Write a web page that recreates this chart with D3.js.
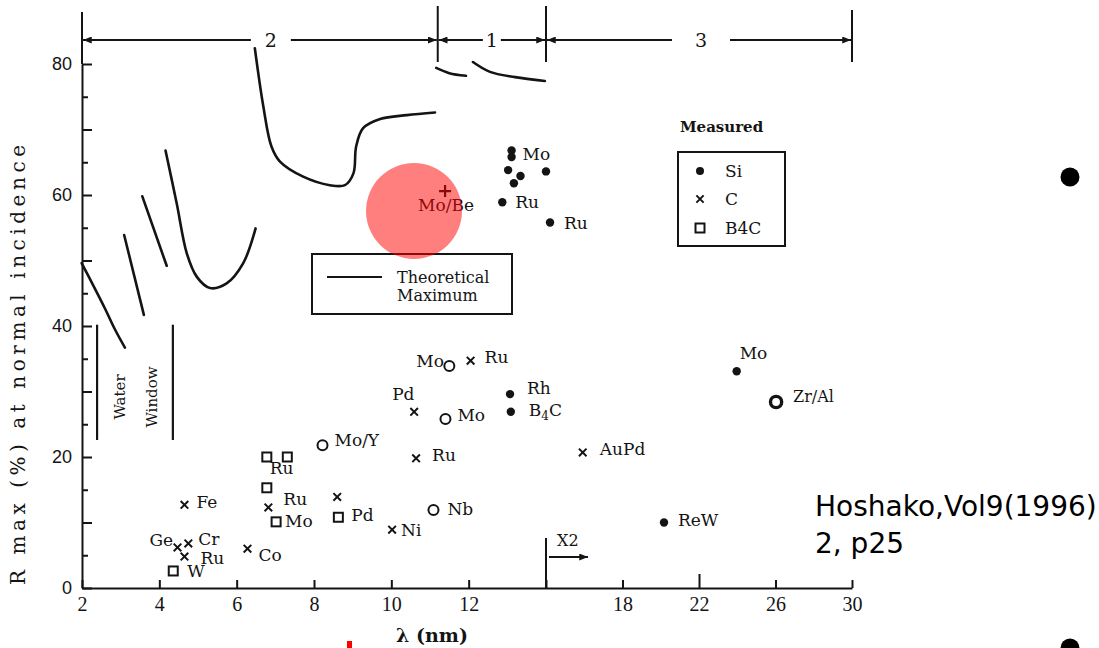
<!DOCTYPE html>
<html>
<head>
<meta charset="utf-8">
<script src="https://cdn.jsdelivr.net/npm/d3@7"></script>
<style>
  body { margin: 0; background: #fff; }
  svg { display: block; }
</style>
</head>
<body>
<svg id="chart" width="1099" height="648"></svg>
<script>
// ---- axis ticks -------------------------------------------------------
// wavelength (nm); the scale is stretched x2 beyond 14 nm
const xTickValues = [2, 4, 6, 8, 10, 12, 14, 18, 22, 26, 30];
const xTickLabels = ["2", "4", "6", "8", "10", "12", "", "18", "22", "26", "30"];
const yTickValues = [0, 20, 40, 60, 80];
const yMinorTicks = [0, 5, 10, 15, 20, 25, 30, 35, 40, 45, 50, 55, 60, 65, 70, 75, 80];

// ---- wavelength regions along the top ----------------------------------
const regionEdges = [2, 11.2, 14, 30];
const regionNames = ["2", "1", "3"];

// ---- theoretical maximum reflectivity, [lambda nm, R %] ----------------
const theoryCurves = [
  [[1.99, 49.6], [2.30, 46.1], [2.60, 42.6], [2.85, 39.5], [3.11, 36.7]],
  [[3.09, 53.9], [3.60, 41.7]],
  [[3.56, 59.8], [4.19, 49.2]],
  [[4.16, 66.8], [4.45, 58.7], [4.71, 51.1], [4.97, 47.5], [5.31, 45.8], [5.74, 46.5], [6.17, 49.6], [6.49, 54.9]],
  [[6.47, 82.4], [6.69, 73.5], [6.90, 67.4], [7.12, 65.1], [7.72, 62.8], [8.41, 61.5], [8.80, 61.5], [9.02, 63.3],
   [9.09, 67.4], [9.27, 70.2], [9.71, 71.6], [10.40, 72.2], [11.13, 72.6]],
  [[11.16, 79.4], [11.50, 78.6], [11.93, 78.2]],
  [[12.11, 80.3], [12.55, 78.8], [13.20, 78.0], [13.97, 77.4]]
];

// ---- measured multilayers, grouped by spacer ----------------------------
// Si spacer (filled dots)
const siLambda = [13.11, 13.11, 13.02, 13.34, 13.17, 14.0, 12.87, 14.21, 13.07, 13.09, 23.97, 20.17];
const siR      = [66.8, 65.8, 63.8, 62.9, 61.8, 63.6, 58.9, 55.8, 29.6, 26.9, 33.1, 10.0];
const siNames  = ["Mo", "", "", "", "", "", "Ru", "Ru", "Rh", "B4C", "Mo", "ReW"];

// C spacer (crosses)
const cLambda = [12.05, 10.59, 10.64, 15.92, 6.82, 8.60, 4.65, 4.47, 4.75, 4.65, 6.28, 10.02];
const cR      = [34.7, 26.9, 19.8, 20.7, 12.3, 13.9, 12.7, 6.2, 6.8, 4.8, 6.0, 8.9];
const cNames  = ["Ru", "Pd", "Ru", "AuPd", "Ru", "", "Fe", "Ge", "Cr", "Ru", "Co", "Ni"];

// B4C spacer (open squares)
const b4cLambda = [6.78, 7.31, 6.78, 7.02, 8.63, 4.36];
const b4cR      = [20.0, 20.0, 15.3, 10.1, 10.8, 2.6];
const b4cNames  = ["Ru", "", "", "Mo", "Pd", "W"];

// other spacers (open circles)
const otherLambda = [11.50, 11.40, 8.22, 11.09];
const otherR      = [33.9, 25.8, 21.8, 11.9];
const otherNames  = ["Mo", "Mo", "Mo/Y", "Nb"];

// Mo/Be (plus) and Zr/Al (ring)
const moBeLambda = [11.39], moBeR = [60.6];
const zrAlLambda = [26.03], zrAlR = [28.4];

// label placement (pixel offsets from each mark), same order as the series
const siLabelOffsets    = [[11, 10], null, null, null, null, null, [13, 6], [14, 6], [17, 0], [18, 4], [3, -12], [14, 3]];
const cLabelOffsets     = [[14, 2], [-22, -12], [16, 3], [17, 3], [15, -2], null, [12, 3], [-28, -1], [10, 2], [16, 7], [11, 12], [9, 6]];
const b4cLabelOffsets   = [[3, 17], null, null, [9, 5], [13, 4], [14, 6]];
const otherLabelOffsets = [[-33, 1], [12, 2], [12, 1], [14, 5]];

// ---- scales -------------------------------------------------------------
const x = d3.scaleLinear().domain([2, 14, 30]).range([82, 546, 852]);
const y = d3.scaleLinear().domain([0, 80]).range([588, 64]);

const ink = "#141414";
const serif = "'DejaVu Serif', 'Liberation Serif', serif";

const svg = d3.select("#chart");
svg.append("rect").attr("width", 1099).attr("height", 648).attr("fill", "#fff");

const defs = svg.append("defs");
defs.append("marker")
  .attr("id", "arrow")
  .attr("viewBox", "0 0 10 8")
  .attr("refX", 10).attr("refY", 4)
  .attr("markerWidth", 11).attr("markerHeight", 7)
  .attr("markerUnits", "userSpaceOnUse")
  .attr("orient", "auto")
  .append("path").attr("d", "M0,0L10,4L0,8Z").attr("fill", ink);

// ---- axes ---------------------------------------------------------------
const xAxis = d3.axisBottom(x)
  .tickValues(xTickValues)
  .tickSizeInner(-8).tickSizeOuter(0).tickPadding(9)
  .tickFormat((d, i) => xTickLabels[i]);

const gx = svg.append("g").attr("transform", `translate(0,${y(0)})`).call(xAxis);
gx.select(".domain").attr("stroke", ink).attr("stroke-width", 2);
gx.selectAll(".tick line").attr("stroke", ink).attr("stroke-width", 2);
gx.selectAll(".tick line").filter(d => d === 22).attr("y2", -14);
gx.selectAll(".tick text")
  .attr("fill", ink).attr("font-family", "'Liberation Serif', serif").attr("font-size", 20);

const yAxis = d3.axisLeft(y)
  .tickValues(yMinorTicks)
  .tickSizeInner(-6).tickSizeOuter(0).tickPadding(10)
  .tickFormat(d => yTickValues.includes(d) ? d : "");

const gy = svg.append("g").attr("transform", `translate(${x(2)},0)`).call(yAxis);
gy.select(".domain").attr("stroke", ink).attr("stroke-width", 2);
gy.selectAll(".tick line").attr("stroke", ink).attr("stroke-width", 2);
gy.selectAll(".tick line").filter(d => d % 10 === 0).attr("x2", 10);
gy.selectAll(".tick text")
  .attr("fill", ink).attr("font-family", "'Liberation Sans', sans-serif").attr("font-size", 18);

// y axis continues up into the region bar
svg.append("line")
  .attr("x1", x(2)).attr("x2", x(2)).attr("y1", y(80)).attr("y2", 12)
  .attr("stroke", ink).attr("stroke-width", 2);

// axis titles
svg.append("text")
  .attr("x", 432).attr("y", 642)
  .attr("text-anchor", "middle")
  .attr("font-family", serif).attr("font-weight", "bold").attr("font-size", 19)
  .attr("fill", ink)
  .text("λ (nm)");

svg.append("text")
  .attr("transform", "translate(25,365) rotate(-90)")
  .attr("text-anchor", "middle")
  .attr("font-family", serif).attr("font-size", 20)
  .attr("textLength", 440).attr("lengthAdjust", "spacing")
  .attr("fill", ink)
  .text("R max (%) at normal incidence");

// ---- region bar across the top -------------------------------------------
const barY = 40;
const regionLabelShift = [11, 0, 2];
const regionGapHalf = [20, 9, 29];
regionEdges.forEach((e, i) => {
  if (i === 0) return;
  svg.append("line")
    .attr("x1", x(e)).attr("x2", x(e))
    .attr("y1", i === regionEdges.length - 1 ? 10 : 6).attr("y2", 62)
    .attr("stroke", ink).attr("stroke-width", 2);
});
regionNames.forEach((name, i) => {
  const x0 = x(regionEdges[i]), x1 = x(regionEdges[i + 1]);
  const cx = (x0 + x1) / 2 + regionLabelShift[i];
  const g = regionGapHalf[i];
  [[cx - g, x0 + 1], [cx + g, x1 - 1]].forEach(([from, to]) => {
    svg.append("line")
      .attr("x1", from).attr("x2", to).attr("y1", barY).attr("y2", barY)
      .attr("stroke", ink).attr("stroke-width", 2)
      .attr("marker-end", "url(#arrow)");
  });
  svg.append("text")
    .attr("x", cx).attr("y", barY + 7)
    .attr("text-anchor", "middle")
    .attr("font-family", serif).attr("font-size", 19)
    .attr("fill", ink)
    .text(name);
});

// ---- x2 scale change marker at 14 nm --------------------------------------
svg.append("line")
  .attr("x1", x(14)).attr("x2", x(14)).attr("y1", y(0)).attr("y2", 538)
  .attr("stroke", ink).attr("stroke-width", 2);
svg.append("line")
  .attr("x1", x(14) + 3).attr("x2", x(14) + 42).attr("y1", 557).attr("y2", 557)
  .attr("stroke", ink).attr("stroke-width", 1.8)
  .attr("marker-end", "url(#arrow)");
svg.append("text")
  .attr("x", x(14) + 11).attr("y", 546)
  .attr("font-family", serif).attr("font-size", 16).attr("fill", ink)
  .text("X2");

// ---- water window -----------------------------------------------------------
const waterWindow = [2.39, 4.35];
const waterRange = [22.6, 40.2];
waterWindow.forEach(l => {
  svg.append("line")
    .attr("x1", x(l)).attr("x2", x(l)).attr("y1", y(waterRange[0])).attr("y2", y(waterRange[1]))
    .attr("stroke", ink).attr("stroke-width", 2.2);
});
[["Water", 125, 397], ["Window", 157, 397]].forEach(([t, tx, ty]) => {
  svg.append("text")
    .attr("transform", `translate(${tx},${ty}) rotate(-90)`)
    .attr("text-anchor", "middle")
    .attr("font-family", serif).attr("font-size", 15).attr("fill", ink)
    .text(t);
});

// ---- theoretical curves ------------------------------------------------------
const line = d3.line()
  .x(d => x(d[0])).y(d => y(d[1]))
  .curve(d3.curveCatmullRom.alpha(0.5));
svg.append("g").selectAll("path").data(theoryCurves).join("path")
  .attr("d", line)
  .attr("fill", "none").attr("stroke", ink).attr("stroke-width", 2.6)
  .attr("stroke-linecap", "round");

// ---- marks ---------------------------------------------------------------------
const toPoints = (ls, rs, names, offs) => ls.map((l, i) => ({
  lam: l, r: rs[i], name: names ? names[i] : "", off: offs ? offs[i] : null
}));

const siPts = toPoints(siLambda, siR, siNames, siLabelOffsets);
const cPts = toPoints(cLambda, cR, cNames, cLabelOffsets);
const b4cPts = toPoints(b4cLambda, b4cR, b4cNames, b4cLabelOffsets);
const otherPts = toPoints(otherLambda, otherR, otherNames, otherLabelOffsets);

const marks = svg.append("g");

marks.selectAll(".si").data(siPts).join("circle")
  .attr("cx", d => x(d.lam)).attr("cy", d => y(d.r)).attr("r", 4.2)
  .attr("fill", ink);

const crossPath = s => `M${-s},${-s}L${s},${s}M${-s},${s}L${s},${-s}`;
marks.selectAll(".c").data(cPts).join("path")
  .attr("transform", d => `translate(${x(d.lam)},${y(d.r)})`)
  .attr("d", crossPath(3.8))
  .attr("stroke", ink).attr("stroke-width", 2).attr("fill", "none");

marks.selectAll(".b4c").data(b4cPts).join("rect")
  .attr("x", d => x(d.lam) - 4.5).attr("y", d => y(d.r) - 4.5)
  .attr("width", 9).attr("height", 9)
  .attr("fill", "#fff").attr("stroke", ink).attr("stroke-width", 2);

marks.selectAll(".other").data(otherPts).join("circle")
  .attr("cx", d => x(d.lam)).attr("cy", d => y(d.r)).attr("r", 5)
  .attr("fill", "#fff").attr("stroke", ink).attr("stroke-width", 2);

marks.selectAll(".zral").data(zrAlLambda).join("circle")
  .attr("cx", d => x(d)).attr("cy", (d, i) => y(zrAlR[i])).attr("r", 5.6)
  .attr("fill", "#fff").attr("stroke", ink).attr("stroke-width", 3.4);

marks.selectAll(".mobe").data(moBeLambda).join("path")
  .attr("transform", (d, i) => `translate(${x(d)},${y(moBeR[i])})`)
  .attr("d", "M-6,0H6M0,-6V6")
  .attr("stroke", ink).attr("stroke-width", 2.2);

// ---- point labels -----------------------------------------------------------------
function addLabel(px, py, text, size) {
  const t = svg.append("text")
    .attr("x", px).attr("y", py)
    .attr("font-family", serif).attr("font-size", size || 17).attr("fill", ink);
  const m = text.match(/^B(\d)C$/);
  if (m) {
    t.append("tspan").text("B");
    t.append("tspan").attr("font-size", 12).attr("dy", 4).text(m[1]);
    t.append("tspan").attr("dy", -4).text("C");
  } else {
    t.text(text);
  }
}
[siPts, cPts, b4cPts, otherPts].forEach(pts => pts.forEach(d => {
  if (!d.name || !d.off) return;
  addLabel(x(d.lam) + d.off[0], y(d.r) + d.off[1], d.name);
}));
addLabel(x(moBeLambda[0]) - 27, y(moBeR[0]) + 20, "Mo/Be");
addLabel(x(zrAlLambda[0]) + 17, y(zrAlR[0]) + 0, "Zr/Al", 16);

// ---- legend: theoretical maximum ---------------------------------------------------
svg.append("rect")
  .attr("x", 312).attr("y", 254).attr("width", 200).attr("height", 60)
  .attr("fill", "none").attr("stroke", ink).attr("stroke-width", 2);
svg.append("line")
  .attr("x1", 327).attr("x2", 382).attr("y1", 277).attr("y2", 277)
  .attr("stroke", ink).attr("stroke-width", 2.2);
svg.append("text").attr("x", 397).attr("y", 283)
  .attr("font-family", serif).attr("font-size", 16).attr("fill", ink).text("Theoretical");
svg.append("text").attr("x", 397).attr("y", 301)
  .attr("font-family", serif).attr("font-size", 16).attr("fill", ink).text("Maximum");

// ---- legend: measured spacers --------------------------------------------------------
svg.append("text").attr("x", 680).attr("y", 132)
  .attr("font-family", serif).attr("font-weight", "bold").attr("font-size", 15)
  .attr("fill", ink).text("Measured");
svg.append("rect")
  .attr("x", 678).attr("y", 152).attr("width", 107).attr("height", 94)
  .attr("fill", "none").attr("stroke", ink).attr("stroke-width", 2);
const legendRows = ["Si", "C", "B4C"];
const legendY = [171, 199, 228];
svg.append("circle").attr("cx", 700).attr("cy", legendY[0]).attr("r", 4).attr("fill", ink);
svg.append("path").attr("transform", `translate(700,${legendY[1]})`)
  .attr("d", crossPath(3.6)).attr("stroke", ink).attr("stroke-width", 2);
svg.append("rect").attr("x", 695.5).attr("y", legendY[2] - 4.5).attr("width", 9).attr("height", 9)
  .attr("fill", "#fff").attr("stroke", ink).attr("stroke-width", 2);
legendRows.forEach((t, i) => {
  svg.append("text").attr("x", 725).attr("y", legendY[i] + 6)
    .attr("font-family", serif).attr("font-size", 17).attr("fill", ink).text(t);
});

// ---- highlight over the Mo/Be point ----------------------------------------------------
svg.append("circle")
  .attr("cx", 414).attr("cy", 211).attr("r", 48)
  .attr("fill", "#ff0000").attr("fill-opacity", 0.5);

// ---- slide furniture: reference note, bullets, pointer mark ------------------------------
svg.append("text").attr("x", 815).attr("y", 516)
  .attr("font-family", "'DejaVu Sans', sans-serif").attr("font-size", 28).attr("fill", "#000")
  .text("Hoshako,Vol9(1996)");
svg.append("text").attr("x", 815).attr("y", 553)
  .attr("font-family", "'DejaVu Sans', sans-serif").attr("font-size", 28).attr("fill", "#000")
  .text("2, p25");
svg.append("circle").attr("cx", 1070).attr("cy", 177).attr("r", 9.5).attr("fill", "#000");
svg.append("circle").attr("cx", 1070).attr("cy", 648).attr("r", 9.5).attr("fill", "#000");
svg.append("rect").attr("x", 347).attr("y", 641).attr("width", 5).attr("height", 7).attr("fill", "#ff0000");
</script>
</body>
</html>
